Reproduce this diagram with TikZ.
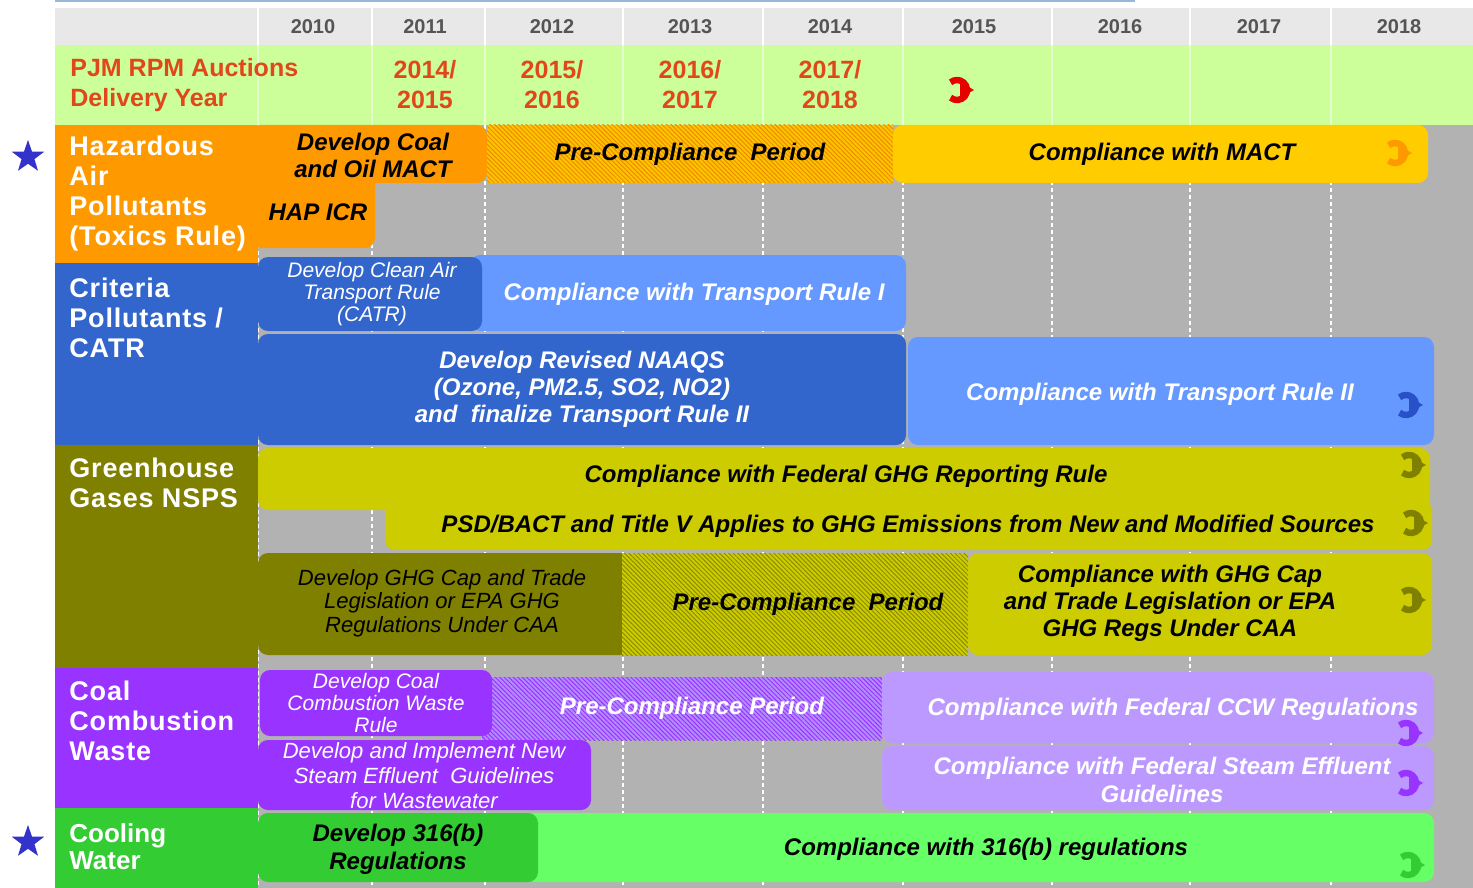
\documentclass[tikz,border=0pt]{standalone}
\usepackage{fontspec}
\setmainfont{Liberation Sans}
\usepackage{tikz}
\usetikzlibrary{patterns.meta}
\usetikzlibrary{shapes.geometric}

\definecolor{hdrgray}{RGB}{232,232,232}
\definecolor{yeargray}{RGB}{85,85,85}
\definecolor{pjmgreen}{RGB}{204,255,153}
\definecolor{pjmred}{RGB}{224,72,28}
\definecolor{bggray}{RGB}{178,178,178}
\definecolor{topline}{RGB}{150,185,215}
\definecolor{hazorange}{RGB}{255,153,0}
\definecolor{mactyellow}{RGB}{255,204,0}
\definecolor{hazhatch}{RGB}{255,195,0}
\definecolor{hazstripe}{RGB}{235,140,0}
\definecolor{critblue}{RGB}{51,102,204}
\definecolor{ltblue}{RGB}{102,153,255}
\definecolor{iconblue}{RGB}{40,80,200}
\definecolor{ghgolive}{RGB}{128,128,0}
\definecolor{ghgyellow}{RGB}{204,204,0}
\definecolor{ghgstripe}{RGB}{140,140,0}
\definecolor{ccwpurple}{RGB}{153,51,255}
\definecolor{ccwlight}{RGB}{187,153,255}
\definecolor{ccwhatch}{RGB}{180,140,255}
\definecolor{coolgreen}{RGB}{51,204,51}
\definecolor{brightgreen}{RGB}{102,255,102}
\definecolor{starblue}{RGB}{51,51,204}
\definecolor{iconred}{RGB}{230,0,0}

% little "continues" arrow at the end of a bar: x, y, colour
\newcommand{\contarrow}[3]{%
	\draw[#3, line width=3.2pt] (#1,#2) ++(130:10) arc[start angle=130, end angle=-130, radius=10];
	\fill[#3] (#1,#2) ++(3,-8) -- ++(14,8) -- ++(-14,8) -- cycle;
}

\tikzset{
	yr/.style={text=yeargray, font=\bfseries\fontsize{10}{12}\selectfont},
	pjm/.style={text=pjmred, align=center, inner sep=0pt, font=\bfseries\fontsize{12.5}{15}\selectfont},
	lbl/.style={text=white, align=left, inner sep=0pt, anchor=west,
		font=\bfseries\addfontfeature{LetterSpace=3}\fontsize{13.5}{15}\selectfont},
	bar/.style={rounded corners=5pt},
	hatch/.style={pattern={Lines[angle=-45, distance=1.6pt, line width=0.5pt]}, pattern color=#1},
	bartxt/.style={align=center, inner sep=0pt, font=\bfseries\itshape\fontsize{12}{13.5}\selectfont},
	devtxt/.style={align=center, inner sep=0pt, font=\itshape\fontsize{10.5}{11}\selectfont},
	mark star/.style={star, star points=5, star point ratio=2.5, fill=starblue, inner sep=0pt, minimum size=17pt}
}

\begin{document}
\begin{tikzpicture}[x=0.5pt, y=-0.5pt]
	\useasboundingbox (0,0) rectangle (1473,888);
	
	% header rows
	\draw[topline, line width=1pt] (55,1) -- (1135,1);
	\fill[hdrgray] (55,8) rectangle (1473,45);
	\fill[pjmgreen] (55,45) rectangle (1473,125);
	\foreach \xx in {258,372,485,623,763,903,1052,1190,1331}{
		\draw[white, line width=0.6pt] (\xx,8) -- (\xx,45);
		\draw[pjmgreen!50!white, line width=0.6pt] (\xx,45) -- (\xx,125);
	}
	
	\foreach \yr/\xx in {2010/313,2011/425,2012/552,2013/690,2014/830,2015/974,2016/1120,2017/1259,2018/1399}
		\node[yr] (y\yr) at (\xx,27) {\yr};
	
	\node[pjm, anchor=west, align=left] (pjm) at (70,85) {PJM RPM Auctions\\Delivery Year};
	\node[pjm] (d14) at (425,85) {2014/\\2015};
	\node[pjm] (d15) at (552,85) {2015/\\2016};
	\node[pjm] (d16) at (690,85) {2016/\\2017};
	\node[pjm] (d17) at (830,85) {2017/\\2018};
	\contarrow{957}{90}{iconred}
	
	% gray timeline area
	\fill[bggray] (258,125) rectangle (1473,888);
	\foreach \xx in {258,372,485,623,763,903,1052,1190,1331}
		\draw[white, line width=0.7pt, dash pattern=on 2pt off 1.5pt] (\xx,125) -- (\xx,888);
	
	% row labels
	\fill[hazorange] (55,125) rectangle (258,263);
	\fill[critblue] (55,263) rectangle (258,445);
	\fill[ghgolive] (55,445) rectangle (258,668);
	\fill[ccwpurple] (55,668) rectangle (258,808);
	\fill[coolgreen] (55,808) rectangle (258,888);
	
	\node[lbl] (haz) at (69,194) {Hazardous\\Air\\Pollutants\\(Toxics Rule)};
	\node[lbl] (crit) at (69,318) {Criteria\\Pollutants /\\CATR};
	\node[lbl] (ghg) at (69,483) {Greenhouse\\Gases NSPS};
	\node[lbl] (ccw) at (69,721) {Coal\\Combustion\\Waste};
	\node[lbl, font=\bfseries\fontsize{13}{13.5}\selectfont] (cool) at (69,847) {Cooling\\Water};
	
	\node[mark star] (star1) at (28,157) {};
	\node[mark star] (star2) at (28,842) {};
	
	%%%%%%%%%%%%%%%%%%%%%%%%%%%%%%%%%%%%%%%%%%%%%%%%%%%%%%%%%%%%%%
	% Hazardous Air Pollutants
	\fill[hazorange, bar] (250,125) rectangle (487,183);
	\fill[hazorange, bar] (250,170) rectangle (375,248);
	\fill[hazhatch] (487,125) rectangle (893,183);
	\fill[hatch=hazstripe] (487,125) rectangle (893,183);
	\fill[mactyellow, bar] (893,125) rectangle (1428,183);
	
	\node[bartxt] (mactdev) at (373,155) {Develop Coal\\and Oil MACT};
	\node[bartxt] (hapicr) at (318,212) {HAP ICR};
	\node[bartxt] (hazpre) at (690,154) {Pre-Compliance\ \ Period};
	\node[bartxt] (mact) at (1162,154) {Compliance with MACT};
	\contarrow{1395}{153}{hazorange}
	
	%%%%%%%%%%%%%%%%%%%%%%%%%%%%%%%%%%%%%%%%%%%%%%%%%%%%%%%%%%%%%%
	% Criteria Pollutants / CATR
	\fill[ltblue, bar] (470,255) rectangle (906,331);
	\fill[critblue, bar] (258,257) rectangle (482,331);
	\fill[critblue, bar] (258,334) rectangle (906,445);
	\fill[ltblue, bar] (908,337) rectangle (1434,445);
	
	\node[devtxt, text=white] (catr) at (372,294) {Develop Clean Air\\Transport Rule\\(CATR)};
	\node[bartxt, text=white] (tr1) at (694,294) {Compliance with Transport Rule I};
	\node[bartxt, text=white] (naaqs) at (582,389) {Develop Revised NAAQS\\(Ozone, PM2.5, SO2, NO2)\\and\ \ finalize Transport Rule II};
	\node[bartxt, text=white] (tr2) at (1160,394) {Compliance with Transport Rule II};
	\contarrow{1406}{405}{iconblue}
	
	%%%%%%%%%%%%%%%%%%%%%%%%%%%%%%%%%%%%%%%%%%%%%%%%%%%%%%%%%%%%%%
	% Greenhouse Gases
	\fill[ghgyellow, bar] (258,448) rectangle (1430,510);
	\fill[ghgyellow, bar] (385,500) rectangle (1432,550);
	\fill[ghgolive, bar] (258,553) rectangle (630,655);
	\fill[ghgyellow] (622,553) rectangle (968,655);
	\fill[hatch=ghgstripe] (622,553) rectangle (968,655);
	\fill[ghgyellow, bar] (968,553) rectangle (1432,655);
	
	\node[bartxt] (ghgrep) at (846,476) {Compliance with Federal GHG Reporting Rule};
	\contarrow{1409}{465}{ghgolive}
	\node[bartxt] (psd) at (908,526) {PSD/BACT and Title V Applies to GHG Emissions from New and Modified Sources};
	\contarrow{1411}{523}{ghgolive}
	\node[devtxt, font=\itshape\fontsize{11}{11.75}\selectfont] (ghgdev) at (442,603) {Develop GHG Cap and Trade\\Legislation or EPA GHG\\Regulations Under CAA};
	\node[bartxt] (ghgpre) at (808,604) {Pre-Compliance\ \ Period};
	\node[bartxt] (ghgcap) at (1170,603) {Compliance with GHG Cap\\and Trade Legislation or EPA\\GHG Regs Under CAA};
	\contarrow{1409}{600}{ghgolive}
	
	%%%%%%%%%%%%%%%%%%%%%%%%%%%%%%%%%%%%%%%%%%%%%%%%%%%%%%%%%%%%%%
	% Coal Combustion Waste
	\fill[ccwhatch] (482,677) rectangle (882,740);
	\fill[hatch=ccwpurple] (482,677) rectangle (882,740);
	\fill[ccwpurple, bar] (260,670) rectangle (492,736);
	\fill[ccwlight, bar] (882,672) rectangle (1434,743);
	\fill[ccwpurple, bar] (258,740) rectangle (591,810);
	\fill[ccwlight, bar] (882,746) rectangle (1434,810);
	
	\node[devtxt, text=white] (ccwdev) at (376,703) {Develop Coal\\Combustion Waste\\Rule};
	\node[bartxt, text=white] (ccwpre) at (692,708) {Pre-Compliance Period};
	\node[bartxt, text=white] (ccwcomp) at (1173,709) {Compliance with Federal CCW Regulations};
	\contarrow{1406}{733}{ccwpurple}
	\node[devtxt, text=white, font=\itshape\fontsize{11}{12.5}\selectfont] (steamdev) at (424,776) {Develop and Implement New\\Steam Effluent\ \ Guidelines\\for Wastewater};
	\node[bartxt, text=white, font=\bfseries\itshape\fontsize{12}{14}\selectfont] (steamcomp) at (1162,780) {Compliance with Federal Steam Effluent\\Guidelines};
	\contarrow{1406}{783}{ccwpurple}
	
	%%%%%%%%%%%%%%%%%%%%%%%%%%%%%%%%%%%%%%%%%%%%%%%%%%%%%%%%%%%%%%
	% Cooling Water
	\fill[brightgreen, bar] (525,813) rectangle (1434,882);
	\fill[coolgreen, bar] (258,813) rectangle (538,882);
	
	\node[bartxt, font=\bfseries\itshape\fontsize{12}{14}\selectfont] (cooldev) at (398,849) {Develop 316(b)\\Regulations};
	\node[bartxt] (coolcomp) at (986,849) {Compliance with 316(b) regulations};
	\contarrow{1408}{865}{coolgreen}
	
\end{tikzpicture}
\end{document}
